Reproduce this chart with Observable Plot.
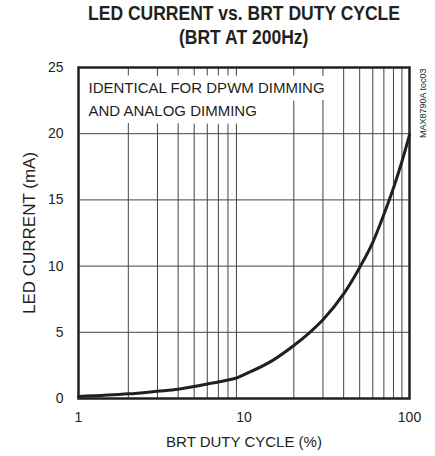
<!DOCTYPE html>
<html>
<head>
<meta charset="utf-8">
<script src="https://cdn.jsdelivr.net/npm/d3@7"></script>
<script src="https://cdn.jsdelivr.net/npm/@observablehq/plot@0.6"></script>
<style>
  body { margin: 0; background: #fff; font-family: "Liberation Sans", Arial, sans-serif; }
  #wrap { width: 435px; height: 456px; position: relative; overflow: hidden; }
  .tl { position: absolute; white-space: nowrap; font-weight: bold; font-size: 20px; line-height: 20px;
        color: #231f20; transform-origin: 0 0; }
  #chart { position: absolute; left: 0; top: 50px; }
</style>
</head>
<body>
<div id="wrap">
  <div class="tl" id="t1">LED CURRENT vs. BRT DUTY CYCLE</div>
  <div class="tl" id="t2">(BRT AT 200Hz)</div>
  <div id="chart"></div>
</div>
<script>
const duty =    [1,    2,    3,    4,   5,   6,   7,    8,   9,    10,  15,  20,  25,  30,   40,  50,  60,   70,   80,   90,   100];
const current = [0.15, 0.35, 0.55, 0.7, 0.9, 1.1, 1.25, 1.4, 1.55, 1.8, 2.9, 4.0, 5.0, 5.95, 7.9, 9.9, 11.8, 13.9, 15.9, 17.9, 19.9];
const xTicks = [1, 10, 100];
const yTicks = [0, 5, 10, 15, 20, 25];
const xGrid = [2,3,4,5,6,7,8,9,20,30,40,50,60,70,80,90];
const yGrid = [5, 10, 15, 20];
const note = "IDENTICAL FOR DPWM DIMMING\nAND ANALOG DIMMING";
const partNo = "MAX8790A toc03";

const data = duty.map((d, i) => ({duty: d, current: current[i]}));

const chart = Plot.plot({
  width: 435,
  height: 406,
  marginTop: 17,
  marginBottom: 58,
  marginLeft: 78,
  marginRight: 26,
  style: {fontFamily: "'Liberation Sans', Arial, sans-serif", fontSize: "14px", color: "#231f20", background: "#fff"},
  x: {type: "log", domain: [1, 100]},
  y: {domain: [0, 25]},
  marks: [
    Plot.ruleX(xGrid, {stroke: "#444", strokeWidth: 1}),
    Plot.ruleY(yGrid, {stroke: "#444", strokeWidth: 1}),
    Plot.text([note], {frameAnchor: "top-left", dx: 10, dy: 9, text: d => d, textAnchor: "start",
      lineAnchor: "top", lineHeight: 1.55, fontSize: 15, fill: "#231f20", stroke: "white", strokeWidth: 15, strokeLinejoin: "round"}),
    Plot.line(data, {x: "duty", y: "current", stroke: "#231f20", strokeWidth: 3, curve: "monotone-x"}),
    Plot.frame({stroke: "#231f20", strokeWidth: 2.5}),
    Plot.axisX({ticks: xTicks, tickFormat: d => String(d), tickSize: 0, tickPadding: 14, fontSize: 14, label: null}),
    Plot.axisX({ticks: [], label: "BRT DUTY CYCLE (%)", labelAnchor: "center", labelArrow: "none", labelOffset: 48, fontSize: 15}),
    Plot.axisY({ticks: yTicks, tickSize: 0, tickPadding: 15, fontSize: 14, label: null}),
    Plot.axisY({ticks: [], label: "LED CURRENT (mA)", labelAnchor: "center", labelArrow: "none", labelOffset: 56, fontSize: 17}),
    Plot.text([partNo], {frameAnchor: "top-right", dx: 10, dy: 1, text: d => d, rotate: -90, textAnchor: "end",
      fontSize: 9, fill: "#231f20"})
  ]
});
document.getElementById("chart").appendChild(chart);

// Condensed bold title: scale horizontally to fit the reference's width, centred on the frame.
const t1 = document.getElementById("t1"), t2 = document.getElementById("t2");
const w1 = t1.getBoundingClientRect().width, w2 = t2.getBoundingClientRect().width;
const s = 312 / w1;
const cx = 243.5;
t1.style.transform = `scaleX(${s})`; t1.style.left = (cx - w1 * s / 2) + "px"; t1.style.top = "3px";
t2.style.transform = `scaleX(${s})`; t2.style.left = (cx - w2 * s / 2) + "px"; t2.style.top = "27px";
</script>
</body>
</html>
